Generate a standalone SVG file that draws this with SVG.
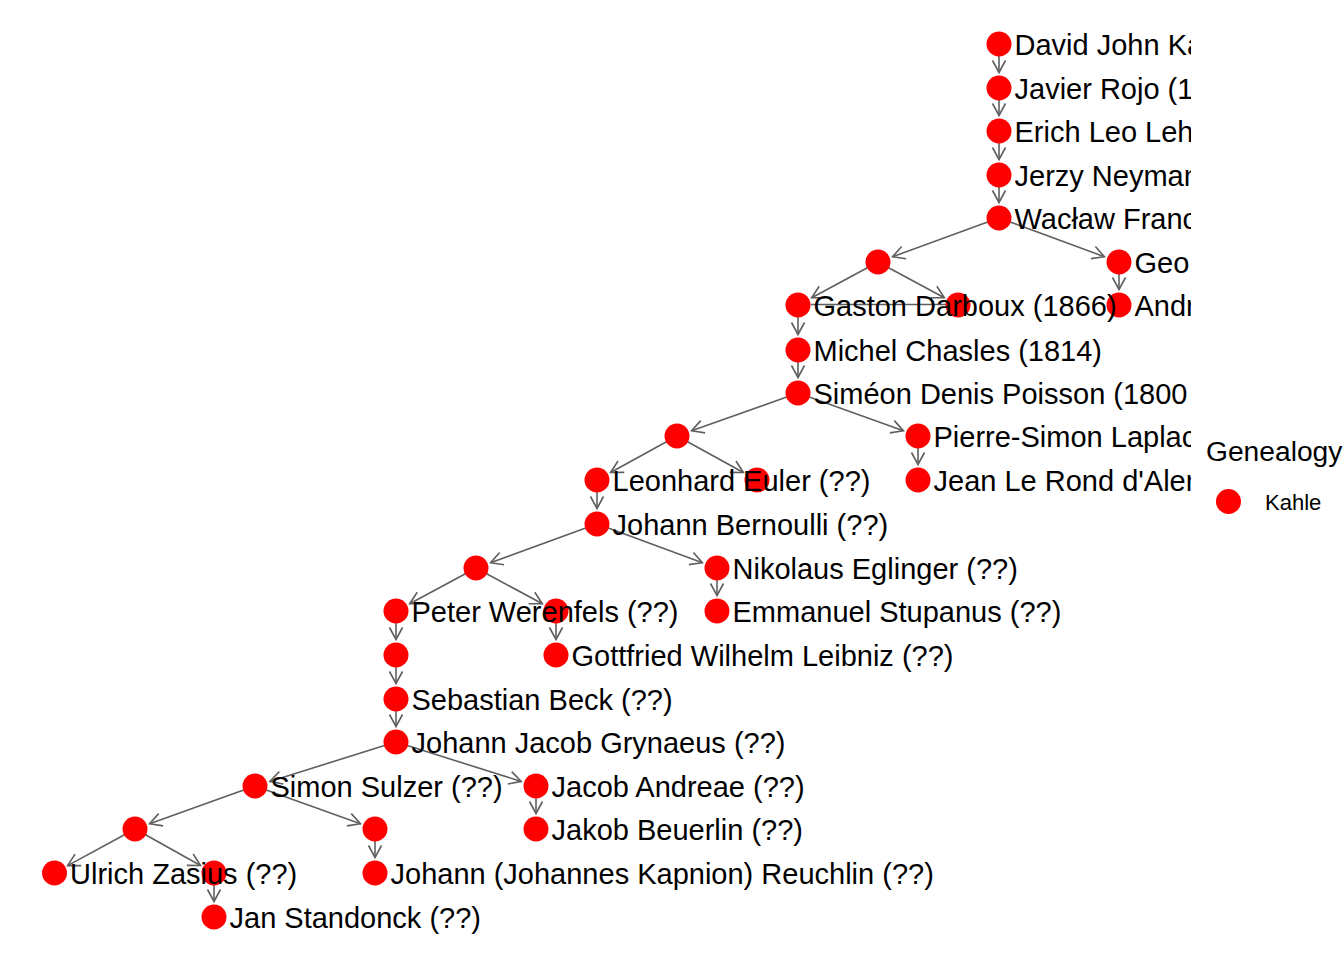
<svg xmlns="http://www.w3.org/2000/svg" width="1344" height="960" viewBox="0 0 1344 960">
<style>
.e{stroke:#5f5f5f;stroke-width:1.6;fill:none}
.a{marker-end:url(#arr)}
.n{fill:#ff0000}
.t{font-family:"Liberation Sans",Arial,sans-serif;font-size:29px;fill:#000}
.lt{font-family:"Liberation Sans",Arial,sans-serif;font-size:28.2px;fill:#000}
.lk{font-family:"Liberation Sans",Arial,sans-serif;font-size:22px;fill:#000}
</style>
<defs>
<marker id="arr" markerUnits="userSpaceOnUse" markerWidth="30" markerHeight="30" refX="0" refY="0" viewBox="-15 -15 30 30" orient="auto" overflow="visible">
<path d="M-12,-6.5 L0,0 L-12,6.5" stroke="#5f5f5f" stroke-width="1.6" fill="none"/>
</marker>
<clipPath id="plot"><rect x="0" y="0" width="1191" height="960"/></clipPath>
</defs>
<rect width="1344" height="960" fill="#fff"/>
<g id="connectors">
<line class="e a" x1="999" y1="56" x2="999" y2="72.5"/>
<line class="e a" x1="999" y1="100" x2="999" y2="115.5"/>
<line class="e a" x1="999" y1="143" x2="999" y2="159.5"/>
<line class="e a" x1="999" y1="187" x2="999" y2="202.5"/>
<line class="e a" x1="987.7" y1="222.1" x2="892.6" y2="256.7"/>
<line class="e a" x1="1010.3" y1="222.1" x2="1104.4" y2="256.7"/>
<line class="e a" x1="867.4" y1="267.7" x2="811.7" y2="297.7"/>
<line class="e a" x1="888.6" y1="267.7" x2="944.3" y2="297.7"/>
<line class="e" x1="946" y1="304.5" x2="811" y2="304.5"/>
<line class="e a" x1="1119" y1="274" x2="1119" y2="289.5"/>
<line class="e a" x1="798" y1="317" x2="798" y2="334.5"/>
<line class="e a" x1="798" y1="362" x2="798" y2="377.5"/>
<line class="e a" x1="786.7" y1="397" x2="691.6" y2="430.8"/>
<line class="e a" x1="809.3" y1="397" x2="903.4" y2="430.8"/>
<line class="e a" x1="666.5" y1="441.8" x2="610.6" y2="472.5"/>
<line class="e a" x1="687.5" y1="441.8" x2="743.4" y2="472.5"/>
<line class="e a" x1="918" y1="448" x2="918" y2="464.5"/>
<line class="e a" x1="597" y1="492" x2="597" y2="508.5"/>
<line class="e a" x1="585.7" y1="528.1" x2="490.6" y2="562.7"/>
<line class="e a" x1="608.3" y1="528.1" x2="702.4" y2="562.7"/>
<line class="e a" x1="465.4" y1="573.7" x2="409.7" y2="603.7"/>
<line class="e a" x1="486.6" y1="573.7" x2="542.3" y2="603.7"/>
<line class="e a" x1="717" y1="580" x2="717" y2="595.5"/>
<line class="e a" x1="396" y1="623" x2="396" y2="639.5"/>
<line class="e a" x1="556" y1="623" x2="556" y2="639.5"/>
<line class="e a" x1="396" y1="667" x2="396" y2="683.5"/>
<line class="e a" x1="396" y1="711" x2="396" y2="726.5"/>
<line class="e a" x1="384.5" y1="745.6" x2="269.8" y2="781.4"/>
<line class="e a" x1="407.4" y1="745.6" x2="521.2" y2="781.4"/>
<line class="e a" x1="243.7" y1="790" x2="149.6" y2="823.8"/>
<line class="e a" x1="266.3" y1="790" x2="360.4" y2="823.8"/>
<line class="e a" x1="536" y1="798" x2="536" y2="813.5"/>
<line class="e a" x1="124.5" y1="834.7" x2="67.6" y2="865.6"/>
<line class="e a" x1="145.5" y1="834.8" x2="200.5" y2="865.5"/>
<line class="e a" x1="375" y1="841" x2="375" y2="857.5"/>
<line class="e a" x1="214" y1="885" x2="214" y2="901.5"/>
</g>
<g id="nodes" clip-path="url(#plot)">
<g id="n1"><circle class="n" cx="999" cy="44" r="12.5"/><text class="t" x="1014.5" y="54.5">David John Ka</text></g>
<g id="n2"><circle class="n" cx="999" cy="88" r="12.5"/><text class="t" x="1014.5" y="98.5">Javier Rojo (1</text></g>
<g id="n3"><circle class="n" cx="999" cy="131" r="12.5"/><text class="t" x="1014.5" y="141.5">Erich Leo Leh</text></g>
<g id="n4"><circle class="n" cx="999" cy="175" r="12.5"/><text class="t" x="1014.5" y="185.5">Jerzy Neyman</text></g>
<g id="n5"><circle class="n" cx="999" cy="218" r="12.5"/><text class="t" x="1014.5" y="228.5">Wacław Franc</text></g>
<g id="n6"><circle class="n" cx="878" cy="262" r="12.5"/></g>
<g id="n7"><circle class="n" cx="1119" cy="262" r="12.5"/><text class="t" x="1134.5" y="272.5">Geo</text></g>
<g id="n9"><circle class="n" cx="958" cy="305" r="12.5"/></g>
<g id="n10"><circle class="n" cx="1119" cy="305" r="12.5"/><text class="t" x="1134.5" y="315.5">Andr</text></g>
<g id="n8"><circle class="n" cx="798" cy="305" r="12.5"/><text class="t" x="813.5" y="315.5">Gaston Darboux (1866)</text></g>
<g id="n11"><circle class="n" cx="798" cy="350" r="12.5"/><text class="t" x="813.5" y="360.5">Michel Chasles (1814)</text></g>
<g id="n12"><circle class="n" cx="798" cy="393" r="12.5"/><text class="t" x="813.5" y="403.5">Siméon Denis Poisson (1800</text></g>
<g id="n13"><circle class="n" cx="677" cy="436" r="12.5"/></g>
<g id="n14"><circle class="n" cx="918" cy="436" r="12.5"/><text class="t" x="933.5" y="446.5">Pierre-Simon Laplac</text></g>
<g id="n16"><circle class="n" cx="757" cy="480" r="12.5"/></g>
<g id="n15"><circle class="n" cx="597" cy="480" r="12.5"/><text class="t" x="612.5" y="490.5">Leonhard Euler (??)</text></g>
<g id="n17"><circle class="n" cx="918" cy="480" r="12.5"/><text class="t" x="933.5" y="490.5">Jean Le Rond d'Alem</text></g>
<g id="n18"><circle class="n" cx="597" cy="524" r="12.5"/><text class="t" x="612.5" y="534.5">Johann Bernoulli (??)</text></g>
<g id="n19"><circle class="n" cx="476" cy="568" r="12.5"/></g>
<g id="n20"><circle class="n" cx="717" cy="568" r="12.5"/><text class="t" x="732.5" y="578.5">Nikolaus Eglinger (??)</text></g>
<g id="n22"><circle class="n" cx="556" cy="611" r="12.5"/></g>
<g id="n21"><circle class="n" cx="396" cy="611" r="12.5"/><text class="t" x="411.5" y="621.5">Peter Werenfels (??)</text></g>
<g id="n23"><circle class="n" cx="717" cy="611" r="12.5"/><text class="t" x="732.5" y="621.5">Emmanuel Stupanus (??)</text></g>
<g id="n24"><circle class="n" cx="396" cy="655" r="12.5"/></g>
<g id="n25"><circle class="n" cx="556" cy="655" r="12.5"/><text class="t" x="571.5" y="665.5">Gottfried Wilhelm Leibniz (??)</text></g>
<g id="n26"><circle class="n" cx="396" cy="699" r="12.5"/><text class="t" x="411.5" y="709.5">Sebastian Beck (??)</text></g>
<g id="n27"><circle class="n" cx="396" cy="742" r="12.5"/><text class="t" x="411.5" y="752.5">Johann Jacob Grynaeus (??)</text></g>
<g id="n28"><circle class="n" cx="255" cy="786" r="12.5"/><text class="t" x="270.5" y="796.5">Simon Sulzer (??)</text></g>
<g id="n29"><circle class="n" cx="536" cy="786" r="12.5"/><text class="t" x="551.5" y="796.5">Jacob Andreae (??)</text></g>
<g id="n30"><circle class="n" cx="135" cy="829" r="12.5"/></g>
<g id="n31"><circle class="n" cx="375" cy="829" r="12.5"/></g>
<g id="n32"><circle class="n" cx="536" cy="829" r="12.5"/><text class="t" x="551.5" y="839.5">Jakob Beuerlin (??)</text></g>
<g id="n34"><circle class="n" cx="214" cy="873" r="12.5"/></g>
<g id="n33"><circle class="n" cx="54.5" cy="873" r="12.5"/><text class="t" x="70" y="883.5">Ulrich Zasius (??)</text></g>
<g id="n35"><circle class="n" cx="375" cy="873" r="12.5"/><text class="t" x="390.5" y="883.5">Johann (Johannes Kapnion) Reuchlin (??)</text></g>
<g id="n36"><circle class="n" cx="214" cy="917" r="12.5"/><text class="t" x="229.5" y="927.5">Jan Standonck (??)</text></g>
</g>
<g id="legend">
<text class="lt" x="1206" y="461">Genealogy</text>
<circle class="n" cx="1228.5" cy="501.5" r="12.5"/>
<text class="lk" x="1265" y="510">Kahle</text>
</g>
</svg>
